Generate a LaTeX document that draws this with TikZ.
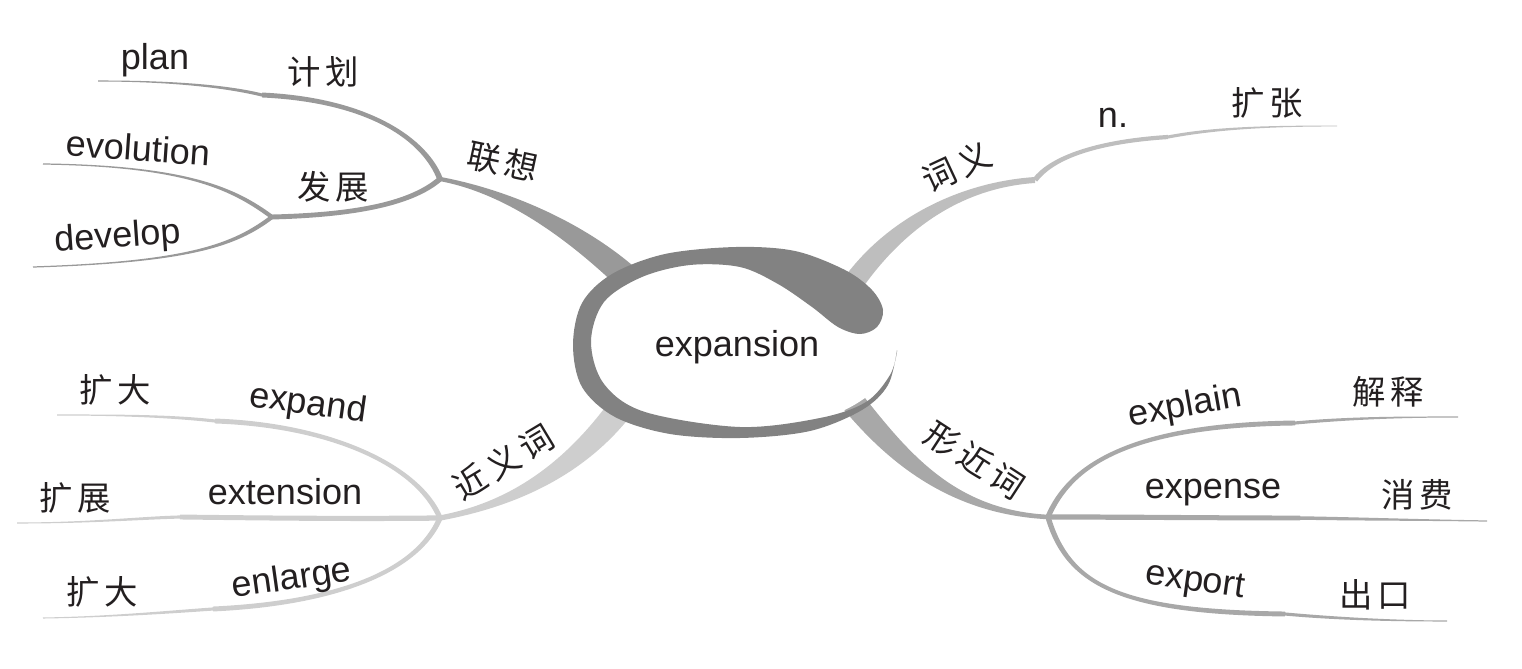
\documentclass[tikz,border=0pt]{standalone}
\usepackage{fontspec}
\setmainfont{Liberation Sans}
\newfontfamily\cjk[LetterSpace=15]{Noto Sans CJK SC}
\usetikzlibrary{calc}
\definecolor{ringc}{RGB}{130,130,130}
\definecolor{lxc}{RGB}{153,153,153}
\definecolor{cyc}{RGB}{190,190,190}
\definecolor{jyc}{RGB}{206,206,206}
\definecolor{xjc}{RGB}{168,168,168}
\definecolor{txt}{RGB}{35,31,32}
% tapered branch: colour, start, control 1, control 2, end, half width at start, half width at end
\newcommand{\taper}[7]{%
  \fill[#1] ($(#2)!#6!90:(#3)$) .. controls ($(#3)!#6!-90:(#2)$) and ($(#4)!#7!90:(#5)$) .. ($(#5)!#7!-90:(#4)$)
    -- ($(#5)!#7!90:(#4)$) .. controls ($(#4)!#7!-90:(#5)$) and ($(#3)!#6!90:(#2)$) .. ($(#2)!#6!-90:(#3)$) -- cycle;}
\tikzset{
  en/.style={font=\fontsize{20.5}{24}\selectfont, text=txt, inner sep=0pt},
  zh/.style={font=\cjk\fontsize{19}{22}\selectfont, text=txt, inner sep=0pt},
}
\begin{document}
\begin{tikzpicture}[x=0.02cm, y=-0.02cm]
\useasboundingbox (0,0) rectangle (1522,669);
% ---- coordinates
\coordinate (J1) at (440,179);
\coordinate (T1) at (642,292);
\coordinate (S1) at (262,95);
\coordinate (Eplan) at (98,81);
\coordinate (J2) at (272,217);
\coordinate (Eevo) at (43,164);
\coordinate (Edev) at (33,267);
\coordinate (K0) at (845,295);
\coordinate (K1) at (1035,180);
\coordinate (S2) at (1168,137);
\coordinate (Ecy) at (1337,126);
\coordinate (J3) at (440,518);
\coordinate (T3) at (632,392);
\coordinate (S3) at (215,421);
\coordinate (Eexd) at (57,415);
\coordinate (S4) at (180,517);
\coordinate (Eext) at (17,523);
\coordinate (S5) at (213,609);
\coordinate (Eenl) at (43,618);
\coordinate (X0) at (845,392);
\coordinate (J4) at (1048,517);
\coordinate (S6) at (1295,423);
\coordinate (Eexl) at (1458,417);
\coordinate (S7) at (1300,518);
\coordinate (Eexs) at (1487,521);
\coordinate (S8) at (1285,614);
\coordinate (Eexp) at (1447,621);
% ---- 联想
\taper{lxc}{J1}{510,192}{585,235}{T1}{1.2pt}{7.5pt}
\taper{lxc}{J1}{425,140}{370,100}{S1}{1.6pt}{1.4pt}
\taper{lxc}{S1}{225,86}{170,81}{Eplan}{0.9pt}{0.3pt}
\taper{lxc}{J1}{410,205}{350,215}{J2}{1.5pt}{1.4pt}
\taper{lxc}{J2}{235,190}{190,166}{Eevo}{1.2pt}{0.35pt}
\taper{lxc}{J2}{235,245}{190,262}{Edev}{1.2pt}{0.35pt}
% ---- 词义
\taper{cyc}{K0}{890,225}{960,185}{K1}{6pt}{1.7pt}
\taper{cyc}{K1}{1050,160}{1090,142}{S2}{1.5pt}{1.2pt}
\taper{cyc}{S2}{1215,128}{1270,126}{Ecy}{0.9pt}{0.25pt}
% ---- 近义词
\taper{jyc}{J3}{510,505}{580,470}{T3}{1.5pt}{7.4pt}
\taper{jyc}{J3}{418,465}{330,425}{S3}{1.5pt}{1.4pt}
\taper{jyc}{S3}{170,416}{120,415}{Eexd}{0.9pt}{0.3pt}
\taper{jyc}{J3}{350,519}{260,518}{S4}{1.5pt}{1.4pt}
\taper{jyc}{S4}{140,518}{90,523}{Eext}{0.9pt}{0.3pt}
\taper{jyc}{J3}{418,570}{340,603}{S5}{1.5pt}{1.4pt}
\taper{jyc}{S5}{170,612}{110,617}{Eenl}{0.9pt}{0.3pt}
% ---- 形近词
\taper{xjc}{X0}{895,455}{950,512}{J4}{6.8pt}{1.3pt}
\taper{xjc}{J4}{1070,465}{1130,425}{S6}{1.5pt}{1.4pt}
\taper{xjc}{S6}{1350,418}{1400,417}{Eexl}{0.9pt}{0.3pt}
\taper{xjc}{J4}{1130,517}{1220,518}{S7}{1.5pt}{1.4pt}
\taper{xjc}{S7}{1360,519}{1420,520}{Eexs}{1pt}{0.35pt}
\taper{xjc}{J4}{1068,585}{1120,612}{S8}{1.5pt}{1.4pt}
\taper{xjc}{S8}{1340,619}{1400,621}{Eexp}{0.9pt}{0.3pt}
% ---- centre
\fill[white] (740,343) ellipse [x radius=159, y radius=89];
\fill[ringc] plot[smooth, tension=0.55] coordinates {(897,350) (888,385) (862,410) (810,431) (740,438) (670,434) (615,417) (582,387) (573,345) (582,303) (612,274) (665,254) (736,247) (795,251) (845,270) (872,290) (883,310) (877,327) (860,334) (838,327) (812,307) (778,284) (740,267) (690,265) (642,277) (604,302) (591,342) (604,384) (645,412) (740,427) (820,418) (866,402) (890,375) (897,352)} -- cycle;
\node[en] (center) at (737,347) {expansion};
% ---- labels
\node[zh, rotate=-12] (lx) at (503,162) {联想};
\node[zh] (jh) at (323,72) {计划};
\node[en] (plan) at (155,60) {plan};
\node[en, rotate=-4] (evo) at (138,148) {evolution};
\node[zh] (fz) at (333,187) {发展};
\node[en, rotate=4] (dev) at (118,238) {develop};
\node[zh, rotate=25] (cy) at (957,167) {词义};
\node[en] (nn) at (1113,118) {n.};
\node[zh] (kz) at (1267,103) {扩张};
\node[zh, rotate=31] (jy) at (503,462) {近义词};
\node[zh] (kd1) at (115,390) {扩大};
\node[en, rotate=-8] (expd) at (308,405) {expand};
\node[zh] (kzh) at (75,498) {扩展};
\node[en] (ext) at (285,492) {extension};
\node[zh] (kd2) at (102,592) {扩大};
\node[en, rotate=8] (enl) at (292,580) {enlarge};
\node[zh, rotate=-33] (xj) at (975,460) {形近词};
\node[en, rotate=10] (expl) at (1185,407) {explain};
\node[zh] (js) at (1388,392) {解释};
\node[en] (exps) at (1213,493) {expense};
\node[zh] (xf) at (1417,495) {消费};
\node[en, rotate=-8] (expo) at (1195,583) {export};
\node[zh] (ck) at (1375,595) {出口};
\end{tikzpicture}
\end{document}
